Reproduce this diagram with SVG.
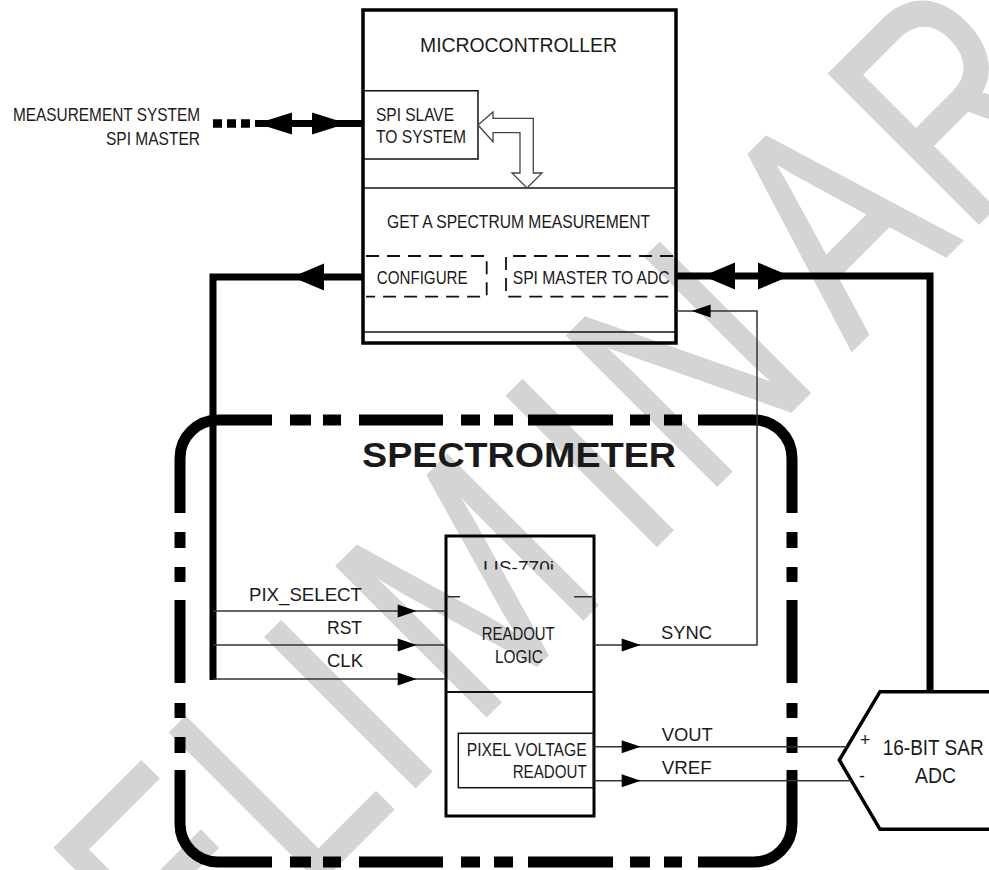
<svg xmlns="http://www.w3.org/2000/svg" width="989" height="870" viewBox="0 0 989 870">
<style>
text{font-family:"Liberation Sans",Arial,sans-serif;fill:#1a1a1a;font-size:17.5px}
.big{font-size:20.5px}
.adc{font-size:22px}
.title{font-size:35px;font-weight:bold}
.thick{fill:none;stroke:#000;stroke-width:7}
.thin{fill:none;stroke:#333;stroke-width:1.5}
.box{fill:none;stroke:#000;stroke-width:3.5}
.sbox{fill:none;stroke:#111;stroke-width:1.5}
.dash{fill:none;stroke:#111;stroke-width:1.8;stroke-dasharray:13 8}
.ah{fill:#000}
.border{fill:none;stroke:#000;stroke-width:11}
.wm{font-size:307px;fill:#d4d4d4;stroke:#d4d4d4;stroke-width:3}
</style>
<defs>
<path id="ahs" d="M0,0 L-19,-6.5 L-19,6.5 Z"/>
<path id="ahb" d="M0,0 L-32,-13.5 L-32,13.5 Z"/>
<path id="ahm" d="M0,0 L-35,-11 L-35,11 Z"/>
<clipPath id="lisclip"><rect x="470" y="550" width="100" height="19.5"/></clipPath>
</defs>

<g id="watermark">
<text class="wm" transform="translate(601,601) rotate(-45) scale(0.762,1)" x="-1188 -983 -761 -547 -373 -238 75 190 465 676 892" y="0">PRELIMINARY</text>
</g>

<g id="external">
<text x="13" y="121" textLength="187" lengthAdjust="spacingAndGlyphs">MEASUREMENT SYSTEM</text>
<text x="106" y="145" textLength="94" lengthAdjust="spacingAndGlyphs">SPI MASTER</text>
</g>

<g id="microcontroller">
<rect class="box" x="363" y="10" width="313" height="333"/>
<text class="big" x="420" y="52" textLength="197" lengthAdjust="spacingAndGlyphs">MICROCONTROLLER</text>
<line class="sbox" x1="363" y1="188" x2="676" y2="188"/>
<line class="sbox" x1="363" y1="332" x2="676" y2="332"/>
<text x="387" y="228" textLength="263" lengthAdjust="spacingAndGlyphs">GET A SPECTRUM MEASUREMENT</text>
</g>

<g id="spi-slave">
<path class="sbox" d="M363,90.7 H478 V159 H363"/>
<text x="376" y="120.7" textLength="78" lengthAdjust="spacingAndGlyphs">SPI SLAVE</text>
<text x="376" y="142.7" textLength="90" lengthAdjust="spacingAndGlyphs">TO SYSTEM</text>
</g>

<g id="configure">
<path class="dash" d="M366,256 H486.7 V296.7 H366"/>
<text x="376.7" y="284.3" textLength="91" lengthAdjust="spacingAndGlyphs">CONFIGURE</text>
</g>

<g id="spi-master-adc">
<path class="dash" d="M673,256 H506 V296.7 H673"/>
<text x="512.7" y="284.3" textLength="157" lengthAdjust="spacingAndGlyphs">SPI MASTER TO ADC</text>
</g>

<g id="spectrometer">
<path class="border" d="M180,513 V458 A38,38 0 0 1 218,420 H272 M290,420 H311 M323,420 H341 M359,420 H443 M461,420 H480 M494,420 H513 M528,420 H613 M630,420 H650 M664,420 H682 M698,420 H754 A38,38 0 0 1 792,458 V513 M792,532 V548 M792,567 V582 M792,600 V683 M792,703 V718 M792,737 V753 M792,770 V824 A38,38 0 0 1 754,862 H698 M682,862 H664 M650,862 H630 M613,862 H528 M513,862 H494 M480,862 H461 M443,862 H359 M341,862 H323 M311,862 H290 M272,862 H218 A38,38 0 0 1 180,824 V770 M180,753 V737 M180,718 V703 M180,683 V600 M180,582 V567 M180,548 V532"/>
<text class="title" x="362" y="467" textLength="314" lengthAdjust="spacingAndGlyphs">SPECTROMETER</text>
</g>

<g id="sensor">
<rect x="446" y="536" width="148" height="280" fill="none" stroke="#000" stroke-width="3"/>
<text clip-path="url(#lisclip)" x="483" y="573.5" textLength="71" lengthAdjust="spacingAndGlyphs">LIS-770i</text>
<path class="thin" d="M446,596.7 H460 M574,596.7 H594"/>
<line x1="446" y1="692" x2="594" y2="692" stroke="#111" stroke-width="2"/>
<text x="481.7" y="640" textLength="73" lengthAdjust="spacingAndGlyphs">READOUT</text>
<text x="495" y="662.7" textLength="48" lengthAdjust="spacingAndGlyphs">LOGIC</text>
</g>

<g id="pixel-readout">
<rect class="sbox" x="458.3" y="733.3" width="135.2" height="54.4"/>
<text x="466.7" y="755.7" textLength="120" lengthAdjust="spacingAndGlyphs">PIXEL VOLTAGE</text>
<text x="512.7" y="778.3" textLength="74" lengthAdjust="spacingAndGlyphs">READOUT</text>
</g>

<g id="adc">
<path d="M992,691.7 H880 L839.3,760 L880,829.3 H992" fill="none" stroke="#000" stroke-width="3.5"/>
<text x="865" y="746" text-anchor="middle" font-size="16">+</text>
<text x="862" y="782" text-anchor="middle" font-size="16">-</text>
<text class="adc" x="882.7" y="755" textLength="101" lengthAdjust="spacingAndGlyphs">16-BIT SAR</text>
<text class="adc" x="915" y="782.7" textLength="41" lengthAdjust="spacingAndGlyphs">ADC</text>
</g>

<g id="connectors">
<line x1="213" y1="123.5" x2="250" y2="123.5" stroke="#000" stroke-width="8.5" stroke-dasharray="9 5"/>
<path class="thick" d="M255,123.5 H363"/>
<use href="#ahm" transform="translate(257,123.5) rotate(180)"/>
<use href="#ahm" transform="translate(347,123.5)"/>
<path d="M478,125 L493,112 V118.3 H533.3 V173 H542 L527,188 L512,173 H520 V132.7 H493 V141.7 Z" fill="#fff" stroke="#444" stroke-width="1.3"/>
<path class="thick" d="M363,277 H213 V680"/>
<use href="#ahb" transform="translate(292,277) rotate(180)"/>
<path class="thick" d="M676,276 H930 V692"/>
<use href="#ahb" transform="translate(703,276) rotate(180)"/>
<use href="#ahb" transform="translate(790,276)"/>
<path class="thin" d="M213,611 H446 M213,645 H446 M213,679 H446"/>
<use href="#ahs" transform="translate(416.7,611)"/>
<use href="#ahs" transform="translate(416.7,645)"/>
<use href="#ahs" transform="translate(416.7,679)"/>
<path class="thin" d="M594,645 H757 V311 H676"/>
<use href="#ahs" transform="translate(640.7,645)"/>
<use href="#ahs" transform="translate(691.7,311) rotate(180)"/>
<path class="thin" d="M594,746.7 H847 M594,780.7 H851.5"/>
<use href="#ahs" transform="translate(640.7,746.7)"/>
<use href="#ahs" transform="translate(640.7,780.7)"/>
<text x="661" y="639" textLength="51" lengthAdjust="spacingAndGlyphs">SYNC</text>
<text x="249" y="600.7" textLength="113" lengthAdjust="spacingAndGlyphs">PIX_SELECT</text>
<text x="327" y="634" textLength="35" lengthAdjust="spacingAndGlyphs">RST</text>
<text x="327" y="667" textLength="36" lengthAdjust="spacingAndGlyphs">CLK</text>
<text x="661.7" y="740.7" textLength="51" lengthAdjust="spacingAndGlyphs">VOUT</text>
<text x="661.7" y="774" textLength="50" lengthAdjust="spacingAndGlyphs">VREF</text>
</g>
</svg>
